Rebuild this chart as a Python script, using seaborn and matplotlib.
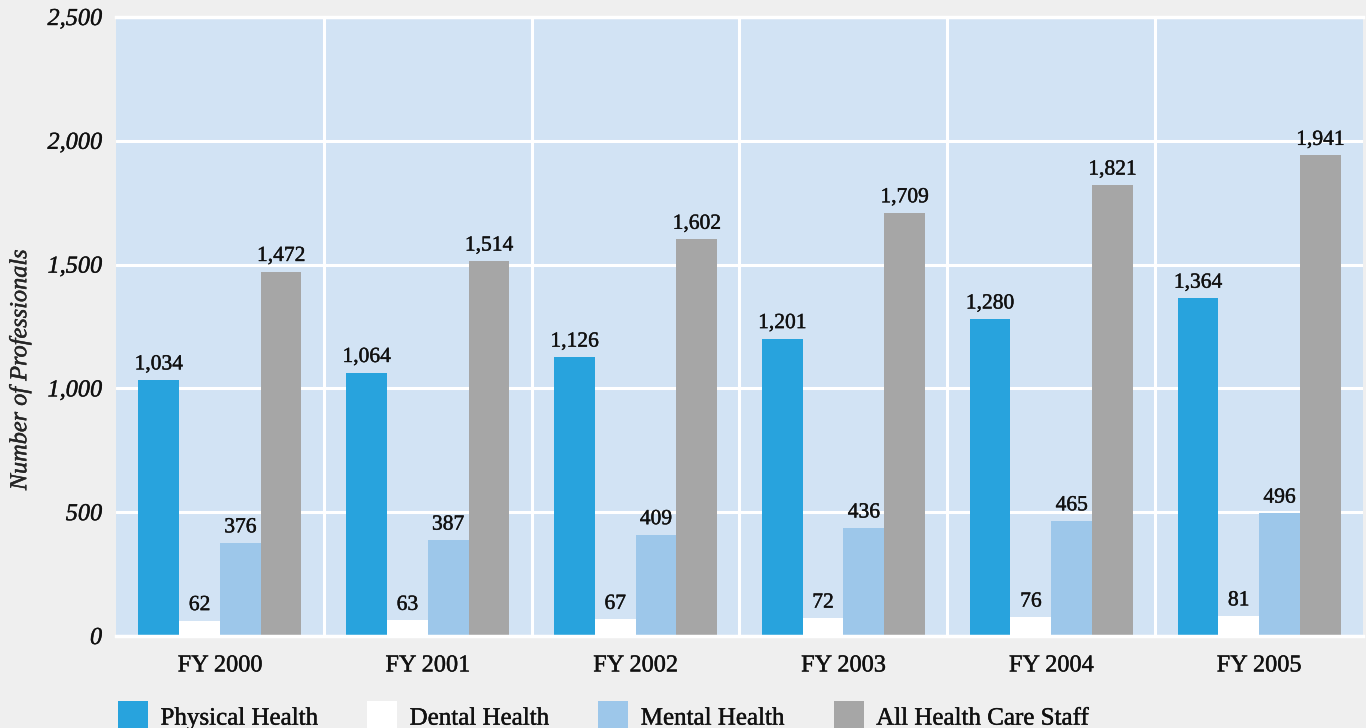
import matplotlib
matplotlib.use("Agg")
import matplotlib.pyplot as plt
import matplotlib.patheffects as pe
import seaborn as sns
import pandas as pd
from matplotlib.patches import Patch
from matplotlib.ticker import FuncFormatter, MultipleLocator, FixedLocator

years = ["FY 2000", "FY 2001", "FY 2002", "FY 2003", "FY 2004", "FY 2005"]
series_names = ["Physical Health", "Dental Health", "Mental Health", "All Health Care Staff"]
physical = [1034, 1064, 1126, 1201, 1280, 1364]
dental = [62, 63, 67, 72, 76, 81]
mental = [376, 387, 409, 436, 465, 496]
all_staff = [1472, 1514, 1602, 1709, 1821, 1941]
colors = ["#28a3dd", "#ffffff", "#9dc7ea", "#a6a6a6"]

values = [physical, dental, mental, all_staff]
rows = []
for name, vals in zip(series_names, values):
    for y, v in zip(years, vals):
        rows.append({"Year": y, "Series": name, "Value": v})
df = pd.DataFrame(rows)

sns.set_theme(style="white")
plt.rcParams['font.family'] = ['Liberation Serif', 'DejaVu Serif']
plt.rcParams['text.color'] = '#111111'
plt.rcParams['xtick.color'] = '#111111'
plt.rcParams['ytick.color'] = '#111111'

thick = [pe.withStroke(linewidth=0.3, foreground="#111111")]

W, H = 1366, 728
fig = plt.figure(figsize=(W / 100, H / 100), dpi=100, facecolor="#efefef")
ax = fig.add_axes([116 / W, 92 / H, 1247 / W, 619 / H])
ax.set_facecolor("#d2e3f4")

sns.barplot(data=df, x="Year", y="Value", hue="Series", hue_order=series_names,
            order=years, palette=colors, width=0.785, saturation=1, ax=ax,
            legend=False, linewidth=0, errorbar=None)

ax.set_ylim(0, 2500)
ax.set_xlim(-0.5, 5.5)
ax.yaxis.set_major_locator(MultipleLocator(500))
ax.yaxis.set_major_formatter(FuncFormatter(lambda v, p: f"{v:,.0f}"))
ax.xaxis.set_minor_locator(FixedLocator([0.5, 1.5, 2.5, 3.5, 4.5]))
ax.set_axisbelow(True)
ax.yaxis.grid(True, color="white", linewidth=2.2)
ax.xaxis.grid(True, which="minor", color="white", linewidth=2.2)
ax.xaxis.grid(False, which="major")
for s in ["left", "right"]:
    ax.spines[s].set_visible(False)
for s in ["top", "bottom"]:
    ax.spines[s].set_color("white")
    ax.spines[s].set_linewidth(2.5)

ax.tick_params(axis="both", which="both", length=0)
ax.tick_params(axis="y", pad=10, labelsize=17.5)
ax.tick_params(axis="x", pad=14, labelsize=17.5)
for lbl in ax.get_yticklabels():
    lbl.set_fontstyle("italic")
    lbl.set_path_effects(thick)
for lbl in ax.get_xticklabels():
    lbl.set_path_effects(thick)

ax.set_xlabel("")
ax.set_ylabel("Number of Professionals", fontstyle="italic", fontsize=17.5,
              path_effects=thick)
ax.yaxis.set_label_coords(-0.068, 0.43)

for cont, vals in zip(ax.containers, values):
    texts = ax.bar_label(cont, labels=[f"{v:,}" for v in vals], padding=4,
                         fontsize=15.5, color="#111111")
    for t in texts:
        t.set_path_effects(thick)

handles = [Patch(facecolor=c, edgecolor="none") for c in colors]
leg = fig.legend(handles, series_names, loc="lower left", bbox_to_anchor=(118 / W, -0.005),
                 ncol=4, frameon=False, fontsize=18, handlelength=1.2, handleheight=1.5,
                 handletextpad=0.5, columnspacing=1.95, borderaxespad=0, borderpad=0)
for t in leg.get_texts():
    t.set_path_effects(thick)

fig.savefig("out.png", dpi=100, facecolor=fig.get_facecolor())
